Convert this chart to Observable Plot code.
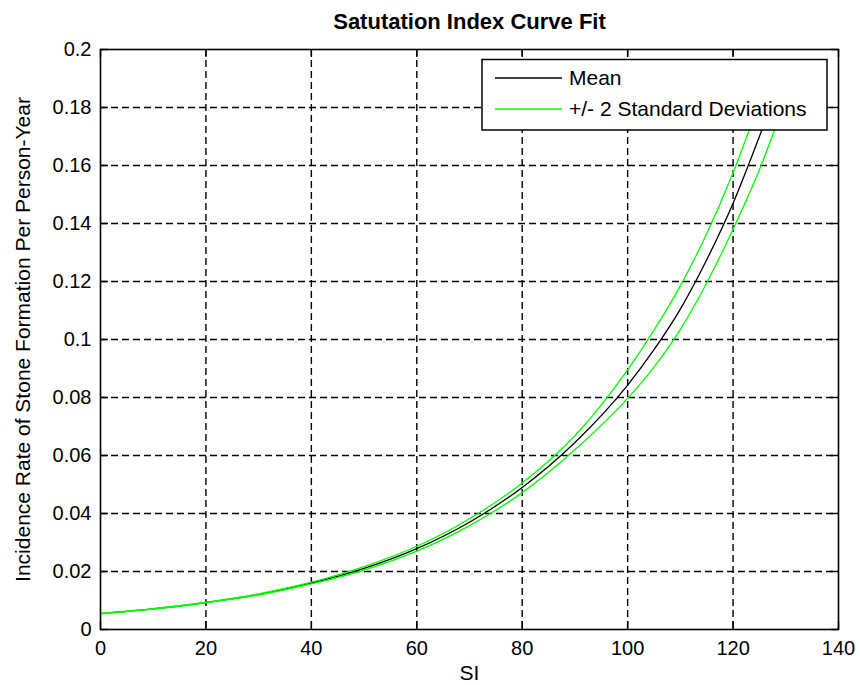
<!DOCTYPE html>
<html>
<head>
<meta charset="utf-8">
<script src="https://cdn.jsdelivr.net/npm/d3@7"></script>
<script src="https://cdn.jsdelivr.net/npm/@observablehq/plot@0.6"></script>
<style>
  html, body { margin: 0; padding: 0; background: #fff; }
  svg { display: block; }
</style>
</head>
<body>
<div id="chart"></div>
<script>
// ---- Data (curves end under the legend) ----
const si = [0, 10, 20, 30, 40, 50, 60, 70, 80, 90, 100, 105, 110, 115, 120, 125, 130];
const meanRate  = [0.0055, 0.0071, 0.0093, 0.0121, 0.0160, 0.0211, 0.0279, 0.0370, 0.0490, 0.0645, 0.0843, 0.0965, 0.1105, 0.1275, 0.1470, 0.1700, 0.1940];
const upperRate = [0.0056, 0.0072, 0.0094, 0.0123, 0.0163, 0.0217, 0.0287, 0.0382, 0.0505, 0.0668, 0.0895, 0.1032, 0.1185, 0.1365, 0.1575, 0.1820, null];
const lowerRate = [0.0054, 0.0070, 0.0092, 0.0119, 0.0157, 0.0205, 0.0270, 0.0358, 0.0472, 0.0620, 0.0797, 0.0905, 0.1035, 0.1195, 0.1380, 0.1585, 0.1830];

const xTicks = [0, 20, 40, 60, 80, 100, 120, 140];
const yTicks = [0, 0.02, 0.04, 0.06, 0.08, 0.1, 0.12, 0.14, 0.16, 0.18, 0.2];

const titleText = "Satutation Index Curve Fit";
const xLabel = "SI";
const yLabel = "Incidence Rate of Stone Formation Per Person-Year";
const legendNames = ["Mean", "+/- 2 Standard Deviations"];
const legendColors = ["#000000", "#00ff00"];

// ---- Layout ----
const W = 860, H = 685;
const mL = 100, mR = 22, mT = 49, mB = 56;
const frameW = W - mL - mR, frameH = H - mT - mB;
const tickLen = 8;
const gridStyle = {stroke: "black", strokeWidth: 1.4, strokeDasharray: "7,4"};
const tickStyle = {stroke: "black", strokeWidth: 1.4};
const font = "'Liberation Sans', Arial, Helvetica, sans-serif";

const chart = Plot.plot({
  width: W, height: H,
  marginLeft: mL, marginRight: mR, marginTop: mT, marginBottom: mB,
  style: {fontFamily: font, background: "white", color: "black", overflow: "visible"},
  x: {domain: [0, 140]},
  y: {domain: [0, 0.2]},
  marks: [
    // dashed grid
    Plot.ruleX(xTicks.slice(1, -1), gridStyle),
    Plot.ruleY(yTicks.slice(1, -1), gridStyle),
    // inward tick marks on all four sides
    Plot.ruleX(xTicks, {...tickStyle, insetTop: frameH - tickLen}),
    Plot.ruleX(xTicks, {...tickStyle, insetBottom: frameH - tickLen}),
    Plot.ruleY(yTicks, {...tickStyle, insetRight: frameW - tickLen}),
    Plot.ruleY(yTicks, {...tickStyle, insetLeft: frameW - tickLen}),
    // curves
    Plot.line(si, {x: si, y: meanRate, stroke: legendColors[0], strokeWidth: 1.3, curve: "monotone-x", clip: true}),
    Plot.line(si, {x: si, y: upperRate, stroke: legendColors[1], strokeWidth: 1.3, curve: "monotone-x", clip: true}),
    Plot.line(si, {x: si, y: lowerRate, stroke: legendColors[1], strokeWidth: 1.3, curve: "monotone-x", clip: true}),
    // box
    Plot.frame({stroke: "black", strokeWidth: 1.6}),
    // axes
    Plot.axisX(xTicks, {tickSize: 0, tickPadding: 11, fontSize: 20, label: null, tickFormat: d => String(d)}),
    Plot.axisY(yTicks, {tickSize: 0, tickPadding: 9, fontSize: 20, label: null, tickFormat: d => String(d)}),
    // labels and title
    Plot.text([titleText], {text: d => d, frameAnchor: "top", lineAnchor: "middle", textAnchor: "middle", dy: -28, fontSize: 22, fontWeight: "bold"}),
    Plot.text([xLabel], {text: d => d, frameAnchor: "bottom", lineAnchor: "middle", textAnchor: "middle", dy: 44, fontSize: 21}),
    Plot.text([yLabel], {text: d => d, frameAnchor: "left", lineAnchor: "middle", textAnchor: "middle", dx: -77, rotate: -90, fontSize: 21})
  ]
});

document.getElementById("chart").appendChild(chart);

// ---- Legend box (drawn on top, like MATLAB) ----
const svg = d3.select(chart);
const lg = svg.append("g")
  .attr("font-family", font).attr("font-size", 21)
  .style("text-anchor", "start");
const box = {x: 482, y: 59.5, w: 345, h: 70.5};
lg.append("rect")
  .attr("x", box.x).attr("y", box.y).attr("width", box.w).attr("height", box.h)
  .style("fill", "#ffffff").style("stroke", "#000000").style("stroke-width", "1.5px");
const rowY = [78, 109];
legendNames.forEach((name, i) => {
  lg.append("line")
    .attr("x1", box.x + 13).attr("x2", box.x + 80)
    .attr("y1", rowY[i]).attr("y2", rowY[i])
    .style("stroke", legendColors[i]).style("stroke-width", "1.5px");
  lg.append("text")
    .attr("x", box.x + 87).attr("y", rowY[i])
    .attr("dy", "0.35em")
    .style("text-anchor", "start")
    .style("fill", "#000000")
    .text(name);
});
</script>
</body>
</html>
